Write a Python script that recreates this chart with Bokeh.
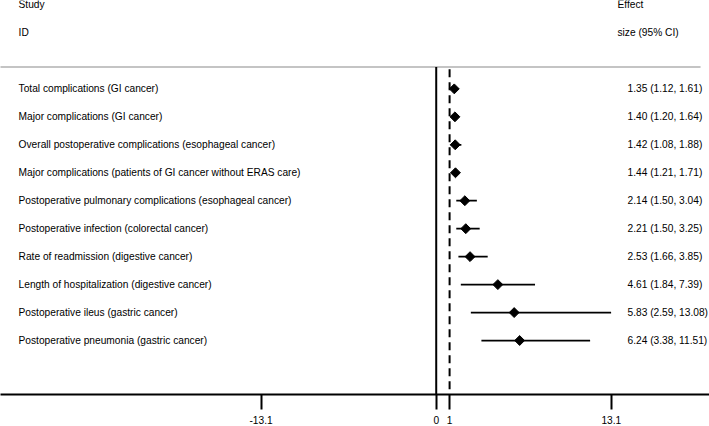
import math
from bokeh.plotting import figure
from bokeh.models import ColumnDataSource, Range1d, FixedTicker
from bokeh.core.properties import value
from bokeh.embed import file_html
from bokeh.resources import INLINE

# ---- data ----
studies = [
    "Total complications (GI cancer)",
    "Major complications (GI cancer)",
    "Overall postoperative complications (esophageal cancer)",
    "Major complications (patients of GI cancer without ERAS care)",
    "Postoperative pulmonary complications (esophageal cancer)",
    "Postoperative infection (colorectal cancer)",
    "Rate of readmission (digestive cancer)",
    "Length of hospitalization (digestive cancer)",
    "Postoperative ileus (gastric cancer)",
    "Postoperative pneumonia (gastric cancer)",
]
effect = [1.35, 1.40, 1.42, 1.44, 2.14, 2.21, 2.53, 4.61, 5.83, 6.24]
lower = [1.12, 1.20, 1.08, 1.21, 1.50, 1.50, 1.66, 1.84, 2.59, 3.38]
upper = [1.61, 1.64, 1.88, 1.71, 3.04, 3.25, 3.85, 7.39, 13.08, 11.51]
tick_values = [-13.1, 0, 1, 13.1]
tick_labels = ["-13.1", "0", "1", "13.1"]
null_value = 0
ref_value = 1
header_left = ["Study", "ID"]
header_right = ["Effect", "size (95% CI)"]

rows = list(range(1, len(studies) + 1))
est_text = [f"{e:.2f} ({l:.2f}, {u:.2f})" for e, l, u in zip(effect, lower, upper)]

# ---- layout constants (data units) ----
X_MIN, X_MAX = -32.59, 20.44
Y_BOTTOM, Y_TOP = 11.93, -2.16
LEFT_X = -31.24
HEAD_R_X = 13.56
VAL_X = 14.31
GRID_Y = 0.214
FONT = value("Liberation Sans")
FSIZE = value("10.2px")

p = figure(width=709, height=426, output_backend="svg", toolbar_location=None,
           x_range=Range1d(X_MIN, X_MAX), y_range=Range1d(Y_BOTTOM, Y_TOP),
           min_border_left=0, min_border_right=0, min_border_top=0, min_border_bottom=0,
           y_axis_location=None, background_fill_color="white", border_fill_color="white")
p.outline_line_color = None
p.grid.visible = False

ax = p.xaxis[0]
ax.ticker = FixedTicker(ticks=tick_values)
ax.major_label_overrides = {v: s for v, s in zip(tick_values, tick_labels)}
ax.axis_line_width = 2
ax.axis_line_color = "black"
ax.major_tick_line_width = 2
ax.major_tick_line_color = "black"
ax.major_tick_out = 15
ax.major_tick_in = 0
ax.minor_tick_line_color = None
ax.major_label_standoff = 6
ax.major_label_text_font = "Liberation Sans"
ax.major_label_text_font_size = "10.2px"
ax.major_label_text_color = "black"

# header separator
p.segment(x0=[-33], x1=[19.77], y0=[GRID_Y], y1=[GRID_Y], line_color="#c4c4c4", line_width=2)

# null line and reference (dashed) line
p.segment(x0=[null_value], x1=[null_value], y0=[GRID_Y], y1=[Y_BOTTOM], line_color="black", line_width=2)
p.segment(x0=[ref_value], x1=[ref_value], y0=[0.3], y1=[Y_BOTTOM], line_color="black",
          line_width=2, line_dash="8 5")

src = ColumnDataSource(dict(study=studies, est=effect, lo=lower, hi=upper, row=rows, txt=est_text,
                            lx=[LEFT_X] * len(rows), vx=[VAL_X] * len(rows)))

p.segment(x0="lo", x1="hi", y0="row", y1="row", source=src, line_color="black", line_width=1.7)
p.scatter(x="est", y="row", source=src, marker="square", angle=math.pi / 4, size=7,
          fill_color="black", line_color="black")

p.text(x="lx", y="row", text="study", source=src, text_font=FONT, text_font_size=FSIZE,
       text_baseline="middle", text_align="left", text_color="black")
p.text(x="vx", y="row", text="txt", source=src, text_font=FONT, text_font_size=FSIZE,
       text_baseline="middle", text_align="left", text_color="black")

p.text(x=[LEFT_X, LEFT_X], y=[-2, -1], text=header_left, text_font=FONT, text_font_size=FSIZE,
       text_baseline="middle", text_align="left", text_color="black")
p.text(x=[HEAD_R_X, HEAD_R_X], y=[-2, -1], text=header_right, text_font=FONT, text_font_size=FSIZE,
       text_baseline="middle", text_align="left", text_color="black")

open("out.html", "w").write(file_html(p, INLINE))
